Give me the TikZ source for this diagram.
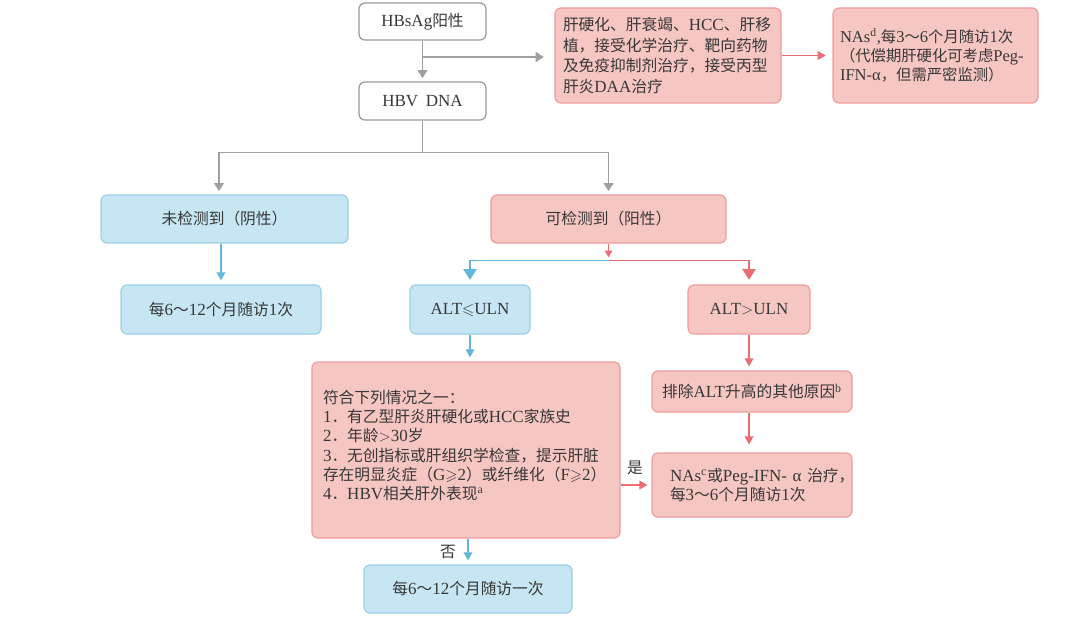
\documentclass[tikz,border=0pt]{standalone}
\usepackage{amssymb}
\usepackage{fontspec}
\setmainfont{Liberation Serif}[Scale=1.08]
\newfontfamily\cjk{Noto Sans CJK SC}
\usetikzlibrary{arrows.meta}
\XeTeXinterchartokenstate=1
\newXeTeXintercharclass\cjkclass
\newcount\cjkc
\def\cjkrange#1#2{\cjkc=#1\relax\loop\XeTeXcharclass\cjkc=\cjkclass\relax\ifnum\cjkc<#2\relax\advance\cjkc by 1\repeat}
\cjkrange{"3000}{"303F}
\cjkrange{"4E00}{"9FFF}
\cjkrange{"FF00}{"FFEF}
\XeTeXinterchartoks 0 \cjkclass = {\cjk}
\XeTeXinterchartoks 4095 \cjkclass = {\cjk}
\XeTeXinterchartoks \cjkclass 0 = {\rmfamily}
\XeTeXinterchartoks \cjkclass 4095 = {\rmfamily}
\definecolor{gline}{HTML}{A0A0A0}
\definecolor{gbd}{HTML}{9A9A9A}
\definecolor{bline}{HTML}{62B6D8}
\definecolor{bfill}{HTML}{C5E6F2}
\definecolor{bbd}{HTML}{9BD0E6}
\definecolor{pline}{HTML}{EB6C73}
\definecolor{pfill}{HTML}{F6C6C3}
\definecolor{pbd}{HTML}{EF9C9C}
\definecolor{txt}{HTML}{383838}
\begin{document}
\begin{tikzpicture}[x=0.75pt,y=-0.75pt,
  box/.style={rounded corners=4.5pt, line width=0.9pt, font=\fontsize{11.8}{14.4}\selectfont, text=txt, inner sep=0pt, align=center},
  gbox/.style={box, draw=gbd, fill=white},
  bbox/.style={box, draw=bbd, fill=bfill},
  pbox/.style={box, draw=pbd, fill=pfill},
  lbl/.style={font=\fontsize{11.8}{14.4}\selectfont, text=txt, inner sep=0pt},
  garr/.style={draw=gline, line width=1pt, -{Triangle[length=6pt,width=7.5pt]}, shorten >=2.5pt},
  barr/.style={draw=bline, line width=1pt, -{Triangle[length=6pt,width=6.5pt]}, shorten >=3pt},
  parr/.style={draw=pline, line width=1pt, -{Triangle[length=6pt,width=6.5pt]}, shorten >=3pt},
  barrbig/.style={draw=bline, line width=1pt, -{Triangle[length=8pt,width=10pt]}, shorten >=3.5pt},
  parrbig/.style={draw=pline, line width=1pt, -{Triangle[length=8pt,width=10pt]}, shorten >=3.5pt},
  parrs/.style={draw=pline, line width=1pt, -{Triangle[length=5pt,width=5.5pt]}, shorten >=2.5pt}
]
\useasboundingbox (0,0) rectangle (1080,623);

\node[gbox, minimum width=95.25pt, minimum height=27.75pt] (hbsag) at (422.5,21.5) {HBsAg阳性};
\node[gbox, minimum width=95.25pt, minimum height=28.5pt] (hbv) at (422.5,101) {HBV\hspace{0.45em}DNA};
\node[pbox, text width=157.5pt, inner xsep=6pt, align=left, minimum height=71.25pt, font=\fontsize{11.8}{15.3}\selectfont] (cirr) at (668,55.5)
  {\mbox{肝硬化、肝衰竭、HCC、肝移}\\植，接受化学治疗、靶向药物\\及免疫抑制剂治疗，接受丙型\\肝炎DAA治疗};
\node[pbox, text width=143.25pt, inner xsep=5.25pt, align=left, minimum height=71.25pt, font=\fontsize{11.5}{14.4}\selectfont] (nasd) at (935.5,55.5)
  {\mbox{NAs\textsuperscript{d},每3～6个月随访1次}\\\mbox{（代偿期肝硬化可考虑Peg-}\\\mbox{IFN-α，但需严密监测）}};
\node[bbox, minimum width=185.25pt, minimum height=36pt] (neg) at (224.5,219) {未检测到（阴性）};
\node[pbox, minimum width=176.25pt, minimum height=36pt] (pos) at (608.5,219) {可检测到（阳性）};
\node[bbox, minimum width=150pt, minimum height=36.75pt] (neg12) at (221,309.5) {每6～12个月随访1次};
\node[bbox, minimum width=90pt, minimum height=36.75pt] (altle) at (470,309.5) {ALT$\leqslant$ULN};
\node[pbox, minimum width=91.5pt, minimum height=36.75pt] (altgt) at (749,309.5) {ALT$>$ULN};
\node[pbox, text width=214.5pt, inner xsep=8.25pt, align=left, minimum height=132pt] (crit) at (466,450)
  {符合下列情况之一：\\\mbox{1．有乙型肝炎肝硬化或HCC家族史}\\2．年龄$>$30岁\\\mbox{3．无创指标或肝组织学检查，提示肝脏}\\\mbox{存在明显炎症（G$\geqslant$2）或纤维化（F$\geqslant$2）}\\4．HBV相关肝外表现\textsuperscript{a}\par\vspace{6.75pt}};
\node[pbox, minimum width=150pt, minimum height=30.75pt] (excl) at (752,391.5) {排除ALT升高的其他原因\textsuperscript{b}};
\node[pbox, text width=123pt, inner xsep=13.5pt, align=left, minimum height=48pt] (nasc) at (752,485)
  {\mbox{NAs\textsuperscript{c}或Peg-IFN-~α~治疗，}\\每3～6个月随访1次};
\node[bbox, minimum width=156pt, minimum height=36pt] (fu) at (468,589) {每6～12个月随访一次};
\node[lbl] (yes) at (635,468) {是};
\node[lbl] (no) at (448,552) {否};

\coordinate (b1) at (422.5,57);
\coordinate (sl) at (219,152.7);
\coordinate (sr) at (608.5,152.7);
\coordinate (s2) at (608.5,260.7);

\draw[garr] (hbsag.south) -- (hbv.north);
\draw[garr, shorten >=8pt] (b1) -- (b1 -| cirr.west);
\draw[parr, shorten >=5pt] (cirr.east) -- (nasd.west);
\draw[garr] (hbv.south) |- (sl) -- (sl |- neg.north);
\draw[garr] (hbv.south) |- (sr) -- (pos.north);
\draw[barr] (neg12.north |- neg.south) -- (neg12.north);
\draw[parrs] (pos.south) -- (s2);
\draw[barrbig] (s2) -| (altle.north);
\draw[parrbig] (s2) -| (altgt.north);
\draw[barr] (altle.south) -- (altle.south |- crit.north);
\draw[parr] (altgt.south) -- (altgt.south |- excl.north);
\draw[parr, shorten >=6pt] (altgt.south |- excl.south) -- (altgt.south |- nasc.north);
\draw[parr] (crit.east |- nasc.west) -- (nasc.west);
\draw[barr] (crit.south -| fu.north) -- (fu.north);
\end{tikzpicture}
\end{document}
